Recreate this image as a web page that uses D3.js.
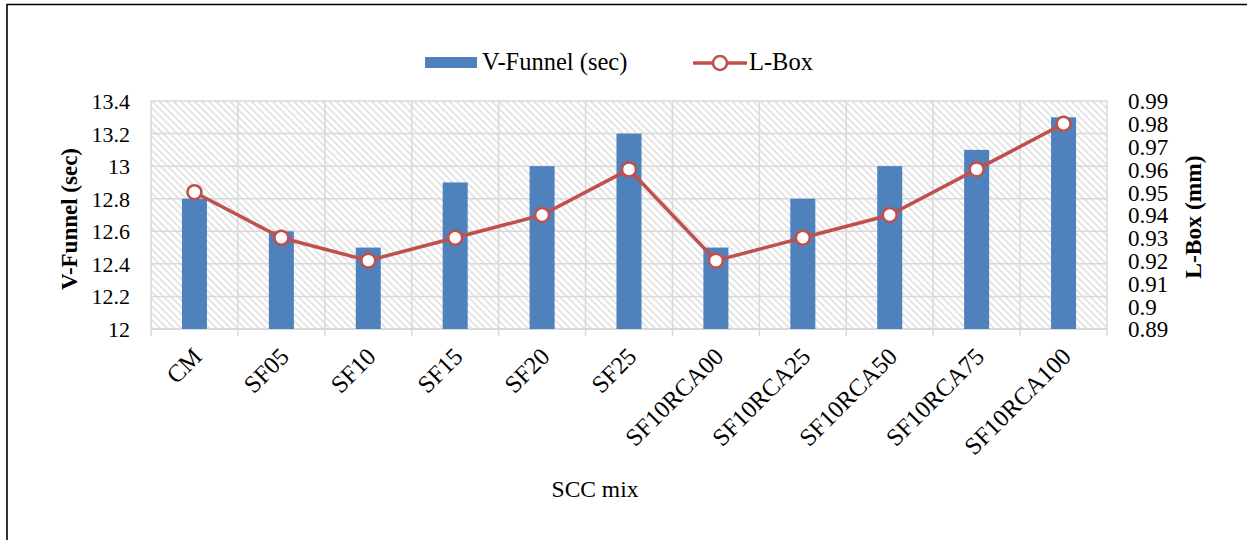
<!DOCTYPE html>
<html>
<head>
<meta charset="utf-8">
<script src="https://cdn.jsdelivr.net/npm/d3@7"></script>
<style>
  html, body { margin: 0; padding: 0; background: #fff; }
  svg { display: block; }
  text { font-family: "Liberation Serif", "Times New Roman", serif; fill: #000; }
</style>
</head>
<body>
<svg id="chart" width="1247" height="540"></svg>
<script>
// SCC mixes and their fresh-state test results
const mixes = ["CM", "SF05", "SF10", "SF15", "SF20", "SF25",
  "SF10RCA00", "SF10RCA25", "SF10RCA50", "SF10RCA75", "SF10RCA100"];
const vFunnel = [12.8, 12.6, 12.5, 12.9, 13.0, 13.2, 12.5, 12.8, 13.0, 13.1, 13.3];
const lBox = [0.95, 0.93, 0.92, 0.93, 0.94, 0.96, 0.92, 0.93, 0.94, 0.96, 0.98];

const leftTicks = [12, 12.2, 12.4, 12.6, 12.8, 13, 13.2, 13.4];
const rightTicks = [0.89, 0.9, 0.91, 0.92, 0.93, 0.94, 0.95, 0.96, 0.97, 0.98, 0.99];

const svg = d3.select("#chart");
const plot = { left: 151, right: 1107, top: 101, bottom: 329 };
const serif = '"Liberation Serif", "Times New Roman", serif';

const x = d3.scaleBand().domain(mixes).range([plot.left, plot.right]);
const yL = d3.scaleLinear().domain([12, 13.4]).range([plot.bottom, plot.top]);
const yR = d3.scaleLinear().domain([0.89, 0.99]).range([plot.bottom, plot.top]);

const gridColor = "#d9d9d9";
const barColor = "#4f81bd";
const lineColor = "#c0504d";

// outer frame (left and top edges)
svg.append("path")
  .attr("d", "M7,540 L7,4.5 L1247,4.5")
  .attr("fill", "none").attr("stroke", "#000").attr("stroke-width", 1.6);

// diagonal hatch fill for the plot area
const defs = svg.append("defs");
const pat = defs.append("pattern")
  .attr("id", "hatch").attr("patternUnits", "userSpaceOnUse")
  .attr("width", 5).attr("height", 5)
  .attr("patternTransform", "rotate(-45)");
pat.append("rect").attr("width", 5).attr("height", 5).attr("fill", "#fff");
pat.append("line").attr("x1", 1).attr("y1", 0).attr("x2", 1).attr("y2", 5)
  .attr("stroke", "#dedede").attr("stroke-width", 1.6);

svg.append("rect")
  .attr("x", plot.left).attr("y", plot.top)
  .attr("width", plot.right - plot.left).attr("height", plot.bottom - plot.top)
  .attr("fill", "url(#hatch)");

// horizontal gridlines on the left-axis ticks
svg.append("g").selectAll("line").data(leftTicks).join("line")
  .attr("x1", plot.left).attr("x2", plot.right)
  .attr("y1", d => yL(d)).attr("y2", d => yL(d))
  .attr("stroke", gridColor).attr("stroke-width", 1.5);

// vertical gridlines on category boundaries
const bounds = mixes.map(m => x(m)).concat([plot.right]);
svg.append("g").selectAll("line").data(bounds).join("line")
  .attr("x1", d => d).attr("x2", d => d)
  .attr("y1", plot.top).attr("y2", plot.bottom + 7)
  .attr("stroke", gridColor).attr("stroke-width", 1.5);

// bottom axis line
svg.append("line")
  .attr("x1", plot.left).attr("x2", plot.right)
  .attr("y1", plot.bottom).attr("y2", plot.bottom)
  .attr("stroke", gridColor).attr("stroke-width", 1.8);

// V-Funnel bars
const barW = 25;
svg.append("g").selectAll("rect").data(mixes).join("rect")
  .attr("x", (d) => x(d) + x.bandwidth() / 2 - barW / 2)
  .attr("width", barW)
  .attr("y", (d, i) => yL(vFunnel[i]))
  .attr("height", (d, i) => yL(12) - yL(vFunnel[i]))
  .attr("fill", barColor);

// L-Box line with open markers
const line = d3.line()
  .x((d, i) => x(mixes[i]) + x.bandwidth() / 2)
  .y(d => yR(d));
svg.append("path").datum(lBox)
  .attr("d", line)
  .attr("fill", "none").attr("stroke", lineColor).attr("stroke-width", 3.5)
  .attr("stroke-linejoin", "round");
svg.append("g").selectAll("circle").data(lBox).join("circle")
  .attr("cx", (d, i) => x(mixes[i]) + x.bandwidth() / 2)
  .attr("cy", d => yR(d))
  .attr("r", 7)
  .attr("fill", "#fff").attr("stroke", lineColor).attr("stroke-width", 2.6);

// left axis labels
const yAxisL = d3.axisLeft(yL).tickValues(leftTicks).tickSize(0).tickPadding(0)
  .tickFormat(d => String(+d.toFixed(1)));
const gL = svg.append("g").attr("transform", `translate(${plot.left - 21},0)`).call(yAxisL);
gL.select(".domain").remove();
gL.attr("font-family", null);
gL.selectAll("text").style("font-family", serif).style("font-size", "22px").attr("fill", "#000")
  .attr("dy", "0.34em");

// right axis labels
const yAxisR = d3.axisRight(yR).tickValues(rightTicks).tickSize(0).tickPadding(0)
  .tickFormat(d => String(+d.toFixed(2)));
const gR = svg.append("g").attr("transform", `translate(${plot.right + 21},0)`).call(yAxisR);
gR.select(".domain").remove();
gR.attr("font-family", null);
gR.selectAll("text").style("font-family", serif).style("font-size", "23px").attr("fill", "#000")
  .attr("dy", "0.34em");

// category labels, rotated
svg.append("g").selectAll("text").data(mixes).join("text")
  .attr("transform", d => `translate(${x(d) + x.bandwidth() / 2 + 9},${plot.bottom + 29}) rotate(-45)`)
  .attr("text-anchor", "end")
  .style("font-size", "24.5px")
  .text(d => d);

// axis titles
svg.append("text")
  .attr("transform", `translate(77,${(plot.top + plot.bottom) / 2 + 4}) rotate(-90)`)
  .attr("text-anchor", "middle").style("font-size", "23px").attr("font-weight", "bold")
  .text("V-Funnel (sec)");
svg.append("text")
  .attr("transform", `translate(1201,${(plot.top + plot.bottom) / 2 + 2}) rotate(-90)`)
  .attr("text-anchor", "middle").style("font-size", "23.5px").attr("font-weight", "bold")
  .text("L-Box (mm)");
svg.append("text")
  .attr("x", 595).attr("y", 497)
  .attr("text-anchor", "middle").style("font-size", "23.5px")
  .text("SCC mix");

// legend
const lg = svg.append("g");
lg.append("rect").attr("x", 425).attr("y", 57).attr("width", 52).attr("height", 11).attr("fill", barColor);
lg.append("text").attr("x", 482).attr("y", 70).style("font-size", "24.5px").text("V-Funnel (sec)");
lg.append("line").attr("x1", 693).attr("x2", 747).attr("y1", 63).attr("y2", 63)
  .attr("stroke", lineColor).attr("stroke-width", 3.5);
lg.append("circle").attr("cx", 720).attr("cy", 63).attr("r", 7)
  .attr("fill", "#fff").attr("stroke", lineColor).attr("stroke-width", 2.6);
lg.append("text").attr("x", 749).attr("y", 70).style("font-size", "24.5px").text("L-Box");
</script>
</body>
</html>
